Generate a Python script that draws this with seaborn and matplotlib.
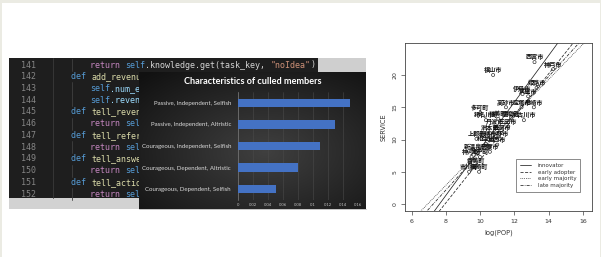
import numpy as np
import matplotlib
matplotlib.use("Agg")
import matplotlib.pyplot as plt
import seaborn as sns
import pandas as pd
from matplotlib.patches import Rectangle

# ---------------- data ----------------
bar_categories = [
    "Passive, Independent, Selfish",
    "Passive, Independent, Altristic",
    "Courageous, Independent, Selfish",
    "Courageous, Dependent, Altristic",
    "Courageous, Dependent, Selfish",
]
bar_values = [0.15, 0.13, 0.11, 0.08, 0.05]
bar_ticks = [0, 0.02, 0.04, 0.06, 0.08, 0.10, 0.12, 0.14, 0.16]
bar_tick_labels = ["0", "0.02", "0.04", "0.06", "0.08", "0.1", "0.12", "0.14", "0.16"]
bar_title = "Characteristics of culled members"

city_names = ["西宮市", "神戸市", "福山市", "姫路市", "伊丹市", "芦屋市",
              "高砂市", "宝塚市", "尼崎市", "多可町", "猪名川町", "稲美町",
              "播磨町", "加古川市", "丹波市", "三田市", "洲本市", "豊岡市",
              "上郡町", "赤穂市", "小野市", "相生市", "加西市", "新温泉町",
              "宍粟市", "神河町", "太子町", "香美町", "市川町", "福崎町"]
log_pop = [13.17, 14.26, 10.75, 13.29, 12.47, 12.80,
           11.50, 12.41, 13.13, 10.00, 10.33, 11.05,
           11.79, 12.55, 10.85, 11.63, 10.56, 11.25,
           9.78, 10.46, 11.15, 10.33, 10.99, 9.74,
           10.56, 9.49, 9.98, 9.78, 9.35, 9.93]
service = [22.0, 20.9, 20.0, 18.0, 17.05, 16.7,
           15.0, 15.0, 15.0, 14.1, 13.0, 13.2,
           13.3, 13.0, 12.0, 12.0, 11.0, 11.0,
           10.1, 10.1, 10.1, 9.3, 9.2, 8.1,
           8.1, 7.3, 7.3, 6.0, 5.0, 5.0]
x_ticks = [6, 8, 10, 12, 14, 16]
y_ticks = [0, 5, 10, 15, 20]

line_names = ["innovator", "early adopter", "early majority", "late majority"]
line_intercepts = [-27.5, -26.42, -18.9, -21.24]
line_slopes = [3.61, 3.33, 2.73, 2.93]

code_numbers = list(range(141, 153))
code_lines = [
    (1, [("return ", "#c586c0"), ("self", "#569cd6"), (".knowledge.get(task_key, ", "#d4d4d4"), ('"noIdea"', "#ce9178"), (")", "#d4d4d4")]),
    (0, [("def ", "#569cd6"), ("add_revenue(self, revenue):", "#dcdcaa")]),
    (1, [("self", "#569cd6"), (".num_events += 1", "#9cdcfe")]),
    (1, [("self", "#569cd6"), (".revenue += revenue", "#9cdcfe")]),
    (0, [("def ", "#569cd6"), ("tell_revenue(self):", "#dcdcaa")]),
    (1, [("return ", "#c586c0"), ("self", "#569cd6"), (".revenue", "#9cdcfe")]),
    (0, [("def ", "#569cd6"), ("tell_refer_count(self):", "#dcdcaa")]),
    (1, [("return ", "#c586c0"), ("self", "#569cd6"), (".refer", "#9cdcfe")]),
    (0, [("def ", "#569cd6"), ("tell_answer(self):", "#dcdcaa")]),
    (1, [("return ", "#c586c0"), ("self", "#569cd6"), (".answer", "#9cdcfe")]),
    (0, [("def ", "#569cd6"), ("tell_action(self):", "#dcdcaa")]),
    (1, [("return ", "#c586c0"), ("self", "#569cd6"), (".action", "#9cdcfe")]),
]

# ---------------- figure ----------------
sns.set_theme(style="white")
plt.rcParams["font.family"] = ["DejaVu Sans"]

W, H = 601, 257
fig = plt.figure(figsize=(W / 100, H / 100), dpi=100)
fig.patch.set_facecolor("white")

bg = fig.add_axes([0, 0, 1, 1], zorder=0)
bg.set_xlim(0, W)
bg.set_ylim(H, 0)
bg.axis("off")

# page border
bg.add_patch(Rectangle((0, 0), W, 3, color="#ebebe3", lw=0, zorder=1))
bg.add_patch(Rectangle((0, 0), 1.5, H, color="#ebebe3", lw=0, zorder=1))
bg.add_patch(Rectangle((W - 1.5, 0), 1.5, H, color="#ebebe3", lw=0, zorder=1))

# code editor panel
bg.add_patch(Rectangle((9, 58), 309, 140, color="#1e1e1e", lw=0, zorder=1))
bg.add_patch(Rectangle((318, 58), 48, 14, color="#cfcfcf", lw=0, zorder=1))
bg.add_patch(Rectangle((9, 198), 130, 11, color="#d2d2d2", lw=0, zorder=1))
bg.plot([53, 53], [58, 198], color="#3a3a3a", lw=0.6, zorder=1.5)

charw = 5.02
y0, dy = 65, 11.73
for i, (num, (ind, segs)) in enumerate(zip(code_numbers, code_lines)):
    y = y0 + i * dy
    bg.text(36, y, str(num), color="#858585", fontsize=6, family="DejaVu Sans Mono",
            ha="right", va="center", zorder=2)
    x = 71 if ind == 0 else 90
    limit = 318 if i == 0 else 139
    if ind == 1:
        bg.plot([72, 72], [y - 6, y + 6], color="#404040", lw=0.6, zorder=1.5)
    col = 0
    for txt, c in segs:
        xs_ = x + col * charw
        nfit = int(np.ceil((limit - xs_) / charw))
        shown = txt[:max(nfit, 0)]
        if shown:
            t = bg.text(xs_, y, shown, color=c, fontsize=6, family="DejaVu Sans Mono",
                        ha="left", va="center", zorder=2)
            clip = Rectangle((9, 58), limit - 9, 140, transform=bg.transData)
            t.set_clip_path(clip)
        col += len(txt)

# bar chart panel background (radial gradient)
gx, gy = np.meshgrid(np.linspace(-1, 1, 200), np.linspace(-1, 1, 120))
r = np.sqrt((gx * 0.9 - 0.1) ** 2 + (gy * 0.9 - 0.15) ** 2)
shade = np.clip(0.25 - 0.13 * r, 0.07, 0.25)
img = np.dstack([shade, shade, shade])
bg.imshow(img, extent=(139, 366, 209, 72), zorder=3, aspect="auto", interpolation="bilinear")
bg.plot([139, 366], [209, 209], color="#bbbbbb", lw=0.6, zorder=3.5)
bg.text(253, 82, bar_title, color="white", fontsize=6.6, fontweight="bold",
        family="Lato", ha="center", va="center", zorder=4)

# bar chart axes
axb = fig.add_axes([238 / W, 1 - 200 / H, 120 / W, 108 / H], zorder=5)
axb.patch.set_alpha(0)
dfb = pd.DataFrame({"cat": bar_categories, "val": bar_values})
sns.barplot(data=dfb, x="val", y="cat", color="#4472c4", width=0.38,
            saturation=1, linewidth=0, edgecolor="none", ax=axb, zorder=3)
axb.set_xlim(0, 0.16)
axb.set_xticks(bar_ticks)
axb.set_xticklabels(bar_tick_labels, fontsize=3, color="#bfbfbf", family="Lato")
axb.tick_params(axis="y", labelsize=4.4, labelcolor="#d9d9d9", length=0, pad=5)
axb.tick_params(axis="x", length=0, pad=2.5)
for lab in axb.get_yticklabels():
    lab.set_family("Lato")
axb.set_xlabel("")
axb.set_ylabel("")
axb.grid(axis="x", color="#4a4a4a", lw=0.4, zorder=0)
axb.grid(axis="y", visible=False)
for s in ["top", "right", "bottom"]:
    axb.spines[s].set_visible(False)
axb.spines["left"].set_color("#7a7a7a")
axb.spines["left"].set_linewidth(0.5)

# scatter / regression chart
axs = fig.add_axes([405 / W, 1 - 211 / H, 187 / W, 168 / H], zorder=5)
axs.set_facecolor("white")
dfs = pd.DataFrame({"logpop": log_pop, "service": service, "name": city_names})
sns.scatterplot(data=dfs, x="logpop", y="service", marker="o", s=5,
                facecolors="none", edgecolor="#333333", linewidth=0.5, ax=axs, zorder=3)
for nm, xv, yv in zip(city_names, log_pop, service):
    axs.annotate(nm, (xv, yv), xytext=(0, 1.2), textcoords="offset points",
                 ha="center", va="bottom", fontsize=4.4, fontweight="bold", color="#111111",
                 family=["Noto Sans CJK JP", "DejaVu Sans"], zorder=4)

styles = ["-", (0, (4, 2)), (0, (1, 1.4)), (0, (4, 1.5, 1, 1.5))]
xs = np.array([5.0, 17.0])
for nm, a, b, ls in zip(line_names, line_intercepts, line_slopes, styles):
    dl = pd.DataFrame({"x": xs, "y": a + b * xs})
    sns.lineplot(data=dl, x="x", y="y", color="#222222", lw=0.55, linestyle=ls,
                 ax=axs, label=nm)
axs.set_xlim(5.6, 16.53)
axs.set_ylim(-1.08, 24.96)
axs.set_xticks(x_ticks)
axs.set_yticks(y_ticks)
axs.tick_params(axis="both", direction="out", length=3, width=0.5, color="#444444",
                labelsize=4.5, labelcolor="#333333", pad=2.5, bottom=True, left=True)
for lab in axs.get_yticklabels():
    lab.set_rotation(90)
    lab.set_va("center")
axs.set_xlabel("log(POP)", fontsize=4.8, color="#333333", labelpad=4)
axs.set_ylabel("SERVICE", fontsize=4.8, color="#333333", labelpad=4)
for s in axs.spines.values():
    s.set_visible(True)
    s.set_color("#444444")
    s.set_linewidth(0.6)
leg = axs.legend(loc="upper left", bbox_to_anchor=((516 - 405) / 187, (211 - 159) / 168),
                 fontsize=4.0, frameon=True, fancybox=False, handlelength=2.0,
                 borderpad=0.7, labelspacing=0.3, handletextpad=1.2, borderaxespad=0)
leg.get_frame().set_edgecolor("#333333")
leg.get_frame().set_linewidth(0.5)
for t in leg.get_texts():
    t.set_color("#333333")

fig.savefig("out.png", dpi=100)
